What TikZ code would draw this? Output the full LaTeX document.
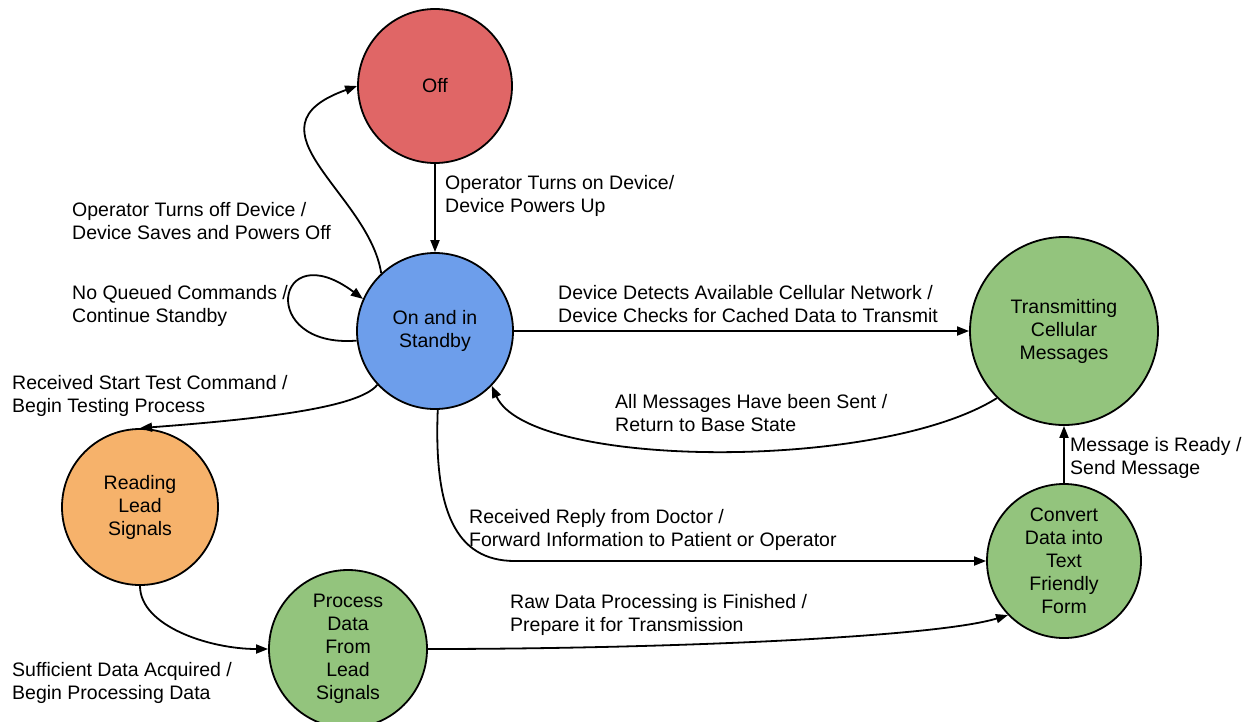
\documentclass[tikz,border=0pt]{standalone}
\usepackage{fontspec}
\setmainfont{Liberation Sans}
\usetikzlibrary{arrows.meta}

\definecolor{offred}{HTML}{E06666}
\definecolor{standbyblue}{HTML}{6D9EEB}
\definecolor{stategreen}{HTML}{93C47D}
\definecolor{readorange}{HTML}{F6B26B}

\begin{document}
\begin{tikzpicture}[x=1pt, y=-1pt,
  every node/.style={font=\fontsize{19.5}{23}\selectfont},
  state/.style={circle, draw, line width=1.8pt, inner sep=0pt, align=center},
  lbl/.style={anchor=west, align=left, inner sep=0pt},
  trans/.style={draw, line width=1.8pt, -{Triangle[length=12pt, width=9pt]}}]

  \useasboundingbox[fill=white] (0,0) rectangle (1258,721);

  % states
  \node[state, fill=offred, minimum size=154pt] (off) at (435,86) {Off};
  \node[state, fill=standbyblue, minimum size=156pt] (standby) at (435,331) {On and in\\Standby};
  \node[state, fill=stategreen, minimum size=188pt] (tx) at (1064,331) {Transmitting\\Cellular\\Messages};
  \node[state, fill=stategreen, minimum size=154pt] (conv) at (1064,561) {Convert\\Data into\\Text\\Friendly\\Form};
  \node[state, fill=readorange, minimum size=156pt] (read) at (140,507) {Reading\\Lead\\Signals};
  \node[state, fill=stategreen, minimum size=158pt] (proc) at (348,649) {Process\\Data\\From\\Lead\\Signals};

  \coordinate (bend) at (515,561);

  % transitions
  \draw[trans] (off.south) -- (standby.north);
  \draw[trans] (standby.133) .. controls +(-12,-80) and +(-118,42) .. (off.west);
  \draw[trans] (standby.187) .. controls +(-100,8) and +(-88,-66) .. (standby.156);
  \draw[trans] (standby.east) -- (tx.west);
  \draw[trans] (tx.225) .. controls +(-118,74) and +(37,83) .. (standby.316);
  \draw[trans] (standby.223) .. controls +(-18,23) and +(120,-9) .. (read.north);
  \draw[trans] (read.south) .. controls +(0,40) and +(-59,0) .. (proc.west);
  \draw[trans] (proc.east) .. controls +(223,0) and +(-76,23) .. (conv.224);
  \draw[trans] (standby.272) .. controls +(-4,100) and +(-60,0) .. (bend) -- (conv.west);
  \draw[trans] (conv.north) -- (tx.south);

  % transition labels
  \node[lbl] (l1) at (445,196) {Operator Turns on Device/\\Device Powers Up};
  \node[lbl] (l2) at (72,221) {Operator Turns off Device /\\Device Saves and Powers Off};
  \node[lbl] (l3) at (72,306) {No Queued Commands /\\Continue Standby};
  \node[lbl] (l4) at (558,304) {Device Detects Available Cellular Network /\\Device Checks for Cached Data to Transmit};
  \node[lbl] (l5) at (615,413) {All Messages Have been Sent /\\Return to Base State};
  \node[lbl] (l6) at (12,396) {Received Start Test Command /\\Begin Testing Process};
  \node[lbl] (l7) at (1070,458) {Message is Ready /\\Send Message};
  \node[lbl] (l8) at (469,530) {Received Reply from Doctor /\\Forward Information to Patient or Operator};
  \node[lbl] (l9) at (510,615) {Raw Data Processing is Finished /\\Prepare it for Transmission};
  \node[lbl] (l10) at (12,683) {Sufficient Data Acquired /\\Begin Processing Data};
\end{tikzpicture}
\end{document}
